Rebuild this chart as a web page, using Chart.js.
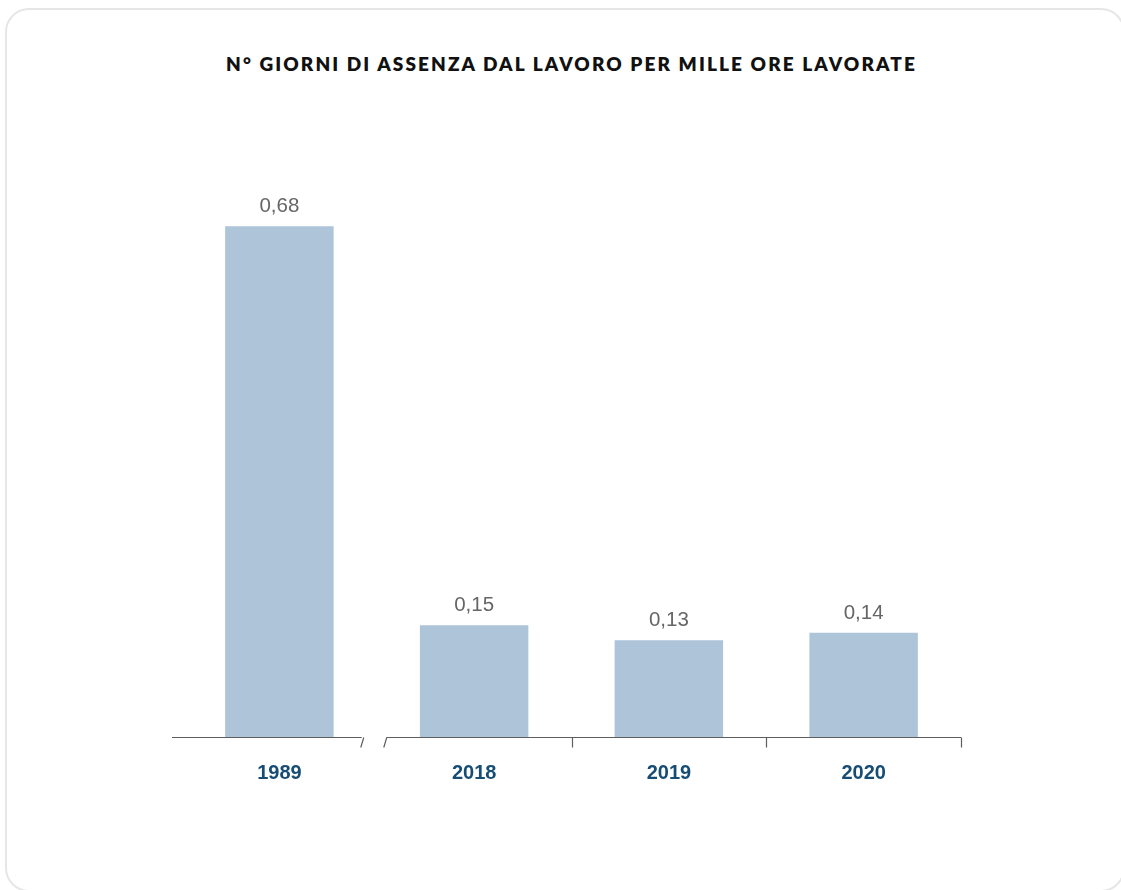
<!DOCTYPE html>
<html lang="it">
<head>
<meta charset="utf-8">
<title>Giorni di assenza</title>
<script src="https://cdn.jsdelivr.net/npm/chart.js@4/dist/chart.umd.min.js"></script>
<style>
  html, body { margin: 0; padding: 0; background: #fff; }
  body { width: 1121px; height: 890px; position: relative; overflow: hidden; }
  .card {
    position: absolute; left: 5px; top: 8px; width: 1120px; height: 884px;
    box-sizing: border-box; border: 2px solid #e6e6e6; border-radius: 24px;
  }
  h1 {
    position: absolute; left: 0; width: 1143px; top: 52px; margin: 0;
    text-align: center; font: 800 19px "Lato", sans-serif; letter-spacing: 2.1px;
    color: #111;
  }
  #chart { position: absolute; left: 0; top: 0; }
</style>
</head>
<body>
<div class="card"></div>
<h1>N° GIORNI DI ASSENZA DAL LAVORO PER MILLE ORE LAVORATE</h1>
<canvas id="chart" width="1121" height="890"></canvas>
<script>
const YEARS = ["1989", "2018", "2019", "2020"];
const VALUES = [0.68, 0.15, 0.13, 0.14];

const BAR_COLOR = "#adc4d9";
const AXIS_COLOR = "#5e5e5e";
const LABEL_COLOR = "#666666";
const YEAR_COLOR = "#174d74";

function fmtComma(v) {
  return v.toFixed(2).replace(".", ",");
}

// values printed above each bar
const valueLabels = {
  id: "valueLabels",
  afterDatasetsDraw(chart) {
    const { ctx } = chart;
    const meta = chart.getDatasetMeta(0);
    ctx.save();
    ctx.font = '20.5px "Liberation Sans", Arial, sans-serif';
    ctx.fillStyle = LABEL_COLOR;
    ctx.textAlign = "center";
    ctx.textBaseline = "alphabetic";
    meta.data.forEach((bar, i) => {
      ctx.fillText(fmtComma(VALUES[i]), bar.x, bar.y - 14);
    });
    ctx.restore();
  },
};

// baseline with a break between 1989 and the recent years
const brokenAxis = {
  id: "brokenAxis",
  afterDatasetsDraw(chart) {
    const { ctx } = chart;
    const x = chart.scales.x;
    const y0 = Math.round(chart.scales.y.getPixelForValue(0)) - 0.5;
    const step = x.getPixelForValue(1) - x.getPixelForValue(0);
    const gap = (x.getPixelForValue(0) + x.getPixelForValue(1)) / 2;
    const left = x.left - 10;
    const cut1 = gap - 15;
    const cut2 = gap + 8;

    ctx.save();
    ctx.strokeStyle = AXIS_COLOR;
    ctx.lineWidth = 1.2;
    ctx.beginPath();
    ctx.moveTo(left, y0);
    ctx.lineTo(cut1, y0);
    ctx.moveTo(cut1 + 2, y0);
    ctx.lineTo(cut1 - 1, y0 + 10);
    ctx.moveTo(cut2 + 2, y0);
    ctx.lineTo(cut2 - 1, y0 + 10);
    ctx.moveTo(cut2 + 2, y0);
    ctx.lineTo(x.right, y0);
    for (let i = 1; i < YEARS.length; i++) {
      const tx = Math.round(x.getPixelForValue(i) + step / 2) + 0.5;
      ctx.moveTo(tx, y0);
      ctx.lineTo(tx, y0 + 10);
    }
    ctx.stroke();
    ctx.restore();
  },
};

new Chart(document.getElementById("chart"), {
  type: "bar",
  data: {
    labels: YEARS,
    datasets: [
      {
        data: VALUES,
        backgroundColor: BAR_COLOR,
        borderWidth: 0,
        categoryPercentage: 1,
        barPercentage: 0.557,
      },
    ],
  },
  options: {
    responsive: false,
    animation: false,
    layout: { padding: { left: 182, right: 160, top: 136, bottom: 90 } },
    plugins: {
      legend: { display: false },
      tooltip: { enabled: false },
    },
    scales: {
      x: {
        grid: { display: false },
        border: { display: false },
        ticks: {
          color: YEAR_COLOR,
          padding: 15,
          font: { family: '"Liberation Sans", Arial, sans-serif', size: 20, weight: "bold" },
        },
      },
      y: {
        display: false,
        min: 0,
        max: 0.8,
      },
    },
  },
  plugins: [valueLabels, brokenAxis],
});
</script>
</body>
</html>
